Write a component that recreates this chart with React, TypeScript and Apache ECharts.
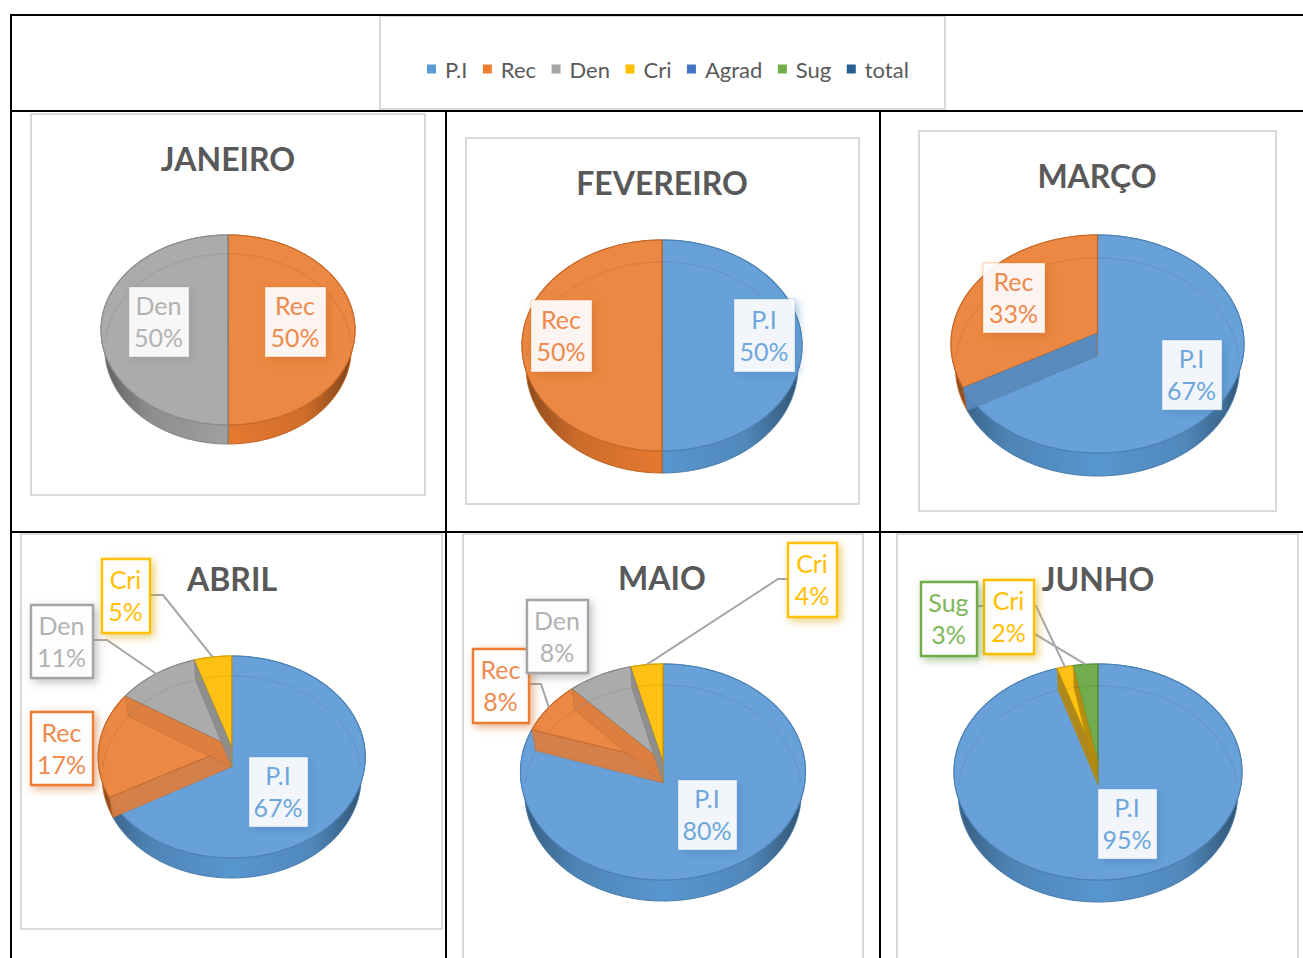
import React, { useEffect, useRef } from "react";
import * as echarts from "echarts";

const categories = ["P.I", "Rec", "Den", "Cri", "Agrad", "Sug", "total"];
const months = ["JANEIRO", "FEVEREIRO", "MARÇO", "ABRIL", "MAIO", "JUNHO"];
const janeiro = [0, 50, 50, 0, 0, 0, 0];
const fevereiro = [50, 50, 0, 0, 0, 0, 0];
const marco = [67, 33, 0, 0, 0, 0, 0];
const abril = [67, 17, 11, 5, 0, 0, 0];
const maio = [80, 8, 8, 4, 0, 0, 0];
const junho = [95, 0, 0, 2, 0, 3, 0];
const monthValues = [janeiro, fevereiro, marco, abril, maio, junho];

const legendColors = ["#5B9BD5", "#ED7D31", "#A5A5A5", "#FFC000", "#4472C4", "#70AD47", "#255E91"];
const faceColors = ["#68A1D9", "#EB8843", "#ABABAB", "#FFC214", "#4472C4", "#71AD4E", "#255E91"];
const textColors = ["#6EA6DB", "#EE8A4E", "#B2B2B2", "#FFC000", "#4472C4", "#80B75C", "#255E91"];
const wallShade = [0.14, 0.07, 0.18, 0.3, 0.1, 0.12, 0.1];

// Layout of the six pies: centre x, half width, far edge, near edge, apex y, thickness
const pieLayouts = [
  { cx: 228, rx: 127, top: 235, bottom: 425, apex: 321, depth: 19 },
  { cx: 662, rx: 140, top: 240, bottom: 451, apex: 335, depth: 22 },
  { cx: 1097.5, rx: 146.5, top: 235, bottom: 453, apex: 333, depth: 23 },
  { cx: 231.7, rx: 133.5, top: 656, bottom: 858, apex: 747, depth: 20 },
  { cx: 663, rx: 142.5, top: 664, bottom: 880, apex: 762, depth: 21 },
  { cx: 1098, rx: 144, top: 664, bottom: 880, apex: 763, depth: 22 },
];
const frameBoxes = [
  [31, 114, 425, 495],
  [466, 138, 859, 504],
  [919, 131, 1276, 511],
  [21, 534, 442, 929],
  [463, 534, 863, 1000],
  [897, 534, 1298, 1000],
];
const titlePositions = [
  [228, 158],
  [662, 182],
  [1097, 175],
  [232, 578],
  [662, 577],
  [1098, 578],
];
// Label boxes: month -> category -> [x0, y0, x1, y1, leaderStartX, leaderStartY, elbowX]
const labelBoxes: Record<number, Record<number, number[]>> = {
  0: { 1: [265, 287, 326, 357], 2: [129, 287, 189, 357] },
  1: { 0: [734, 299, 795, 372], 1: [531, 300, 592, 372] },
  2: { 0: [1162, 340, 1222, 410], 1: [983, 263, 1045, 333] },
  3: {
    0: [249, 757, 308, 827],
    1: [31, 712, 93, 785],
    2: [31, 605, 93, 678, 93, 640, 107],
    3: [102, 559, 150, 633, 150, 595, 163],
  },
  4: {
    0: [678, 780, 737, 850],
    1: [473, 649, 529, 723, 529, 684, 541],
    2: [527, 600, 588, 673],
    3: [788, 543, 837, 617, 788, 579, 778],
  },
  5: {
    0: [1098, 789, 1157, 859],
    3: [984, 580, 1034, 654, 1034, 606, 1036],
    5: [921, 582, 977, 656, 977, 606, 988],
  },
};
// In MARÇO the wall on the first boundary shows in the colour of the first slice
const firstSliceOwnsWall = [false, false, true, false, false, false];

const rows: number[][] = [];
monthValues.forEach((vals, m) => {
  let cum = 0;
  let pos = 0;
  vals.forEach((v, c) => {
    if (v > 0) {
      rows.push([m, c, cum, v, pos]);
      cum += v;
      pos += 1;
    }
  });
});

const TAU = Math.PI * 2;
function project(m: number, theta: number, lower: boolean): number[] {
  const p = pieLayouts[m];
  const far = p.apex - p.top;
  const near = p.bottom - p.apex;
  const b = (near - far) / (near + far);
  const a = far * (1 + b);
  const c = p.rx * Math.sqrt(1 - b * b);
  const d = 1 + b * Math.cos(theta);
  const sx = lower ? 0.97 : 1;
  return [p.cx + (c * Math.sin(theta) * sx) / d, p.apex - (a * Math.cos(theta)) / d + (lower ? p.depth : 0)];
}
function apexOf(m: number, lower: boolean): number[] {
  const p = pieLayouts[m];
  return [p.cx, p.apex + (lower ? p.depth : 0)];
}
function arc(m: number, from: number, to: number, lower: boolean): number[][] {
  const pts: number[][] = [];
  const steps = Math.max(2, Math.ceil((to - from) / 0.025));
  for (let i = 0; i <= steps; i++) pts.push(project(m, from + ((to - from) * i) / steps, lower));
  return pts;
}
const angleOf = (pct: number) => (pct / 100) * TAU;
const dark = (col: string, k: number) => {
  const [r, g, b] = echarts.color.parse(col);
  return `rgb(${Math.round(r * (1 - k))},${Math.round(g * (1 - k))},${Math.round(b * (1 - k))})`;
};
const alpha = (col: string, a: number) => echarts.color.modifyAlpha(col, a);

function wallPolygon(m: number, theta: number, owner: number) {
  const col = faceColors[owner];
  return {
    type: "polygon",
    shape: { points: [apexOf(m, false), project(m, theta, false), project(m, theta, true), apexOf(m, true)] },
    style: { fill: alpha(dark(col, wallShade[owner]), 0.93), stroke: alpha(dark(col, 0.25), 0.4), lineWidth: 1 },
  };
}

function renderBody(_: any, api: any) {
  const m = api.value(0);
  const c = api.value(1);
  const a0 = angleOf(api.value(2));
  const a1 = angleOf(api.value(2) + api.value(3));
  const col = legendColors[c];
  const p = pieLayouts[m];
  const upper = arc(m, a0, a1, false);
  const lowerPts = arc(m, a0, a1, true);
  const fill = new (echarts.graphic as any).LinearGradient(
    p.cx - p.rx, 0, p.cx + p.rx, 0,
    [
      { offset: 0, color: dark(col, 0.42) },
      { offset: 0.2, color: dark(col, 0.14) },
      { offset: 0.5, color: dark(col, 0.03) },
      { offset: 0.8, color: dark(col, 0.12) },
      { offset: 1, color: dark(col, 0.48) },
    ],
    true
  );
  return {
    type: "polygon",
    shape: { points: upper.concat(lowerPts.slice().reverse()) },
    style: { fill, stroke: dark(col, 0.2), lineWidth: 1 },
  };
}

function renderTop(_: any, api: any) {
  const m = api.value(0);
  const c = api.value(1);
  const a0 = angleOf(api.value(2));
  const a1 = angleOf(api.value(2) + api.value(3));
  return {
    type: "polygon",
    shape: { points: [apexOf(m, false)].concat(arc(m, a0, a1, false)) },
    style: { fill: faceColors[c], stroke: dark(legendColors[c], 0.16), lineWidth: 1.2 },
  };
}

// Far rim of the lower face, seen through the top of the slice
function backRims(m: number, c: number, a0: number, a1: number) {
  const spans = [
    [Math.max(a0, 0), Math.min(a1, Math.PI / 2)],
    [Math.max(a0, (Math.PI * 3) / 2), Math.min(a1, TAU)],
  ];
  return spans
    .filter(([s, e]) => e > s)
    .map(([s, e]) => ({
      type: "polyline",
      shape: { points: arc(m, s, e, true) },
      style: { fill: "none", stroke: alpha(dark(faceColors[c], 0.2), 0.45), lineWidth: 1 },
    }));
}

function renderInner(_: any, api: any) {
  const m = api.value(0);
  const c = api.value(1);
  const a0 = angleOf(api.value(2));
  const a1 = angleOf(api.value(2) + api.value(3));
  const pos = api.value(4);
  const children: any[] = backRims(m, c, a0, a1);
  if (pos === 1) {
    const owner = firstSliceOwnsWall[m] ? monthValues[m].findIndex((v) => v > 0) : c;
    children.push(wallPolygon(m, a0, owner));
  }
  if (pos >= 1) children.push(wallPolygon(m, a1, c));
  return { type: "group", children };
}

function renderLeader(_: any, api: any) {
  const m = api.value(0);
  const c = api.value(1);
  const box = labelBoxes[m][c];
  if (!box || box.length < 7) return { type: "group", children: [] };
  const mid = angleOf(api.value(2) + api.value(3) / 2);
  return {
    type: "polyline",
    shape: { points: [[box[4], box[5]], [box[6], box[5]], project(m, mid, false)] },
    style: { fill: "none", stroke: "#A6A6A6", lineWidth: 2 },
  };
}

function renderLabel(_: any, api: any) {
  const m = api.value(0);
  const c = api.value(1);
  const box = labelBoxes[m][c];
  if (!box) return { type: "group", children: [] };
  const [x0, y0, x1, y1] = box;
  const col = legendColors[c];
  const outside = box.length >= 7 || (m === 3 && c === 1) || (m === 4 && c === 2);
  return {
    type: "group",
    children: [
      {
        type: "rect",
        shape: { x: x0, y: y0, width: x1 - x0, height: y1 - y0 },
        style: {
          fill: outside ? "rgba(255,255,255,0.96)" : "rgba(255,255,255,0.9)",
          stroke: outside ? col : alpha(col, 0.35),
          lineWidth: outside ? 2.4 : 1,
          shadowBlur: 8,
          shadowOffsetX: 3,
          shadowOffsetY: 3,
          shadowColor: alpha(dark(col, 0.15), 0.55),
        },
      },
      {
        type: "text",
        style: {
          x: (x0 + x1) / 2 - 0.5,
          y: (y0 + y1) / 2 - 1,
          text: `${categories[c]}\n${api.value(3)}%`,
          align: "center",
          verticalAlign: "middle",
          fontFamily: "Lato",
          fontSize: 25,
          lineHeight: 32,
          fill: textColors[c],
        },
      },
    ],
  };
}

const gridLine = (x1: number, y1: number, x2: number, y2: number) => ({
  type: "line",
  shape: { x1, y1, x2, y2 },
  style: { stroke: "#000", lineWidth: 2 },
  z: 20,
});
const frame = (b: number[]) => ({
  type: "rect",
  shape: { x: b[0], y: b[1], width: b[2] - b[0], height: b[3] - b[1] },
  style: { fill: "#fff", stroke: "#D9D9D9", lineWidth: 2 },
  z: -1,
});

export default function App() {
  const ref = useRef<HTMLDivElement>(null);
  useEffect(() => {
    const chart = echarts.init(ref.current!, undefined, { renderer: "svg" });
    const layer = (name: string, renderItem: any, z: number) => ({
      name,
      type: "custom",
      coordinateSystem: "none",
      renderItem,
      data: rows,
      silent: true,
      z,
      clip: false,
    });
    chart.setOption({
      animation: false,
      backgroundColor: "#fff",
      title: months.map((text, i) => ({
        text,
        left: titlePositions[i][0],
        top: titlePositions[i][1],
        textAlign: "center",
        textVerticalAlign: "middle",
        padding: 0,
        textStyle: { fontFamily: "Lato", fontWeight: "bold", fontSize: 32, color: "#595959" },
      })),
      legend: {
        data: categories,
        left: 427,
        top: 58,
        padding: 0,
        itemWidth: 9,
        itemHeight: 9,
        itemGap: 15.5,
        icon: "rect",
        textStyle: { fontFamily: "Lato", fontSize: 22, color: "#595959", padding: [0, 0, 0, 4] },
      },
      graphic: [
        frame([380, 16, 945, 109]),
        ...frameBoxes.map(frame),
        gridLine(11, 15, 1303, 15),
        gridLine(11, 111, 1303, 111),
        gridLine(11, 532, 1303, 532),
        gridLine(11, 14, 11, 958),
        gridLine(446, 111, 446, 958),
        gridLine(880, 111, 880, 958),
      ],
      series: [
        {
          name: "legend",
          type: "pie",
          radius: 0,
          center: [-50, -50],
          silent: true,
          label: { show: false },
          labelLine: { show: false },
          data: categories.map((name, i) => ({ name, value: 1, itemStyle: { color: legendColors[i] } })),
        },
        layer("body", renderBody, 2),
        layer("top", renderTop, 3),
        layer("inner", renderInner, 4),
        layer("leaders", renderLeader, 5),
        layer("labels", renderLabel, 6),
      ],
    });
    return () => chart.dispose();
  }, []);
  return <div ref={ref} style={{ position: "fixed", left: 0, top: 0, width: 1303, height: 958 }} />;
}
